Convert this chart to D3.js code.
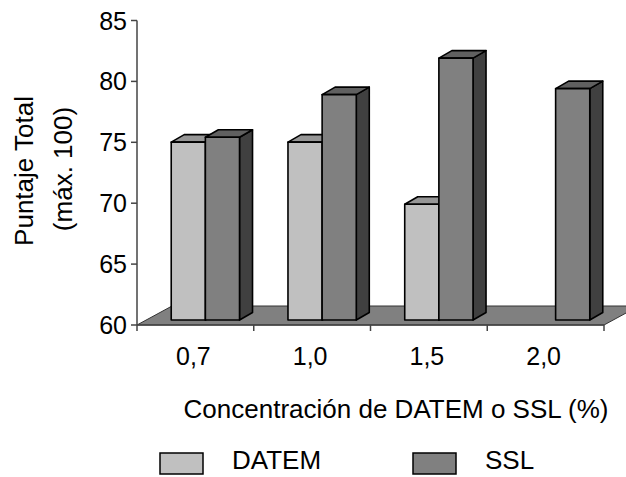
<!DOCTYPE html>
<html>
<head>
<meta charset="utf-8">
<script src="https://cdn.jsdelivr.net/npm/d3@7"></script>
<style>
	body { margin: 0; background: #fff; }
	text { font-family: "Liberation Sans", Arial, sans-serif; fill: #000; }
</style>
</head>
<body>
<div id="chart"></div>
<script>
var categories = ["0,7", "1,0", "1,5", "2,0"]
var seriesNames = ["DATEM", "SSL"]
var datem = [74.6, 74.6, 69.5, null]
var ssl = [75.0, 78.5, 81.5, 79.0]
var yTicks = [60, 65, 70, 75, 80, 85]

var width = 626, height = 477
var plotLeft = 137, plotRight = 604, plotBottom = 325, plotTop = 20.5
// 3d offsets: front plane of bars, bar depth, floor depth
var plane = {dx: 10, dy: -5}
var depth = {dx: 13, dy: -7.5}
var floorDepth = {dx: 35, dy: -19}

var colors = {
	DATEM: {front: "#c0c0c0", top: "#969696", side: "#606060"},
	SSL: {front: "#808080", top: "#606060", side: "#404040"}
}

var svg = d3.select("#chart").append("svg")
	.attr("width", width).attr("height", height)

var x = d3.scaleBand().domain(categories).range([plotLeft, plotRight]).padding(0)
var y = d3.scaleLinear().domain([60, 85]).range([plotBottom, plotTop])
var barW = 34.15
var xs = d3.scaleBand().domain(seriesNames).range([0, 2 * barW])

// floor
var f = [[plotLeft, plotBottom], [plotRight, plotBottom],
	[plotRight + floorDepth.dx, plotBottom + floorDepth.dy], [plotLeft + floorDepth.dx, plotBottom + floorDepth.dy]]
svg.append("path")
	.attr("d", "M" + f.join("L") + "Z")
	.attr("fill", "#808080").attr("stroke", "#333").attr("stroke-width", 1)

// bars
var rows = []
categories.forEach(function(c, i) {
	rows.push({cat: c, series: "DATEM", value: datem[i]})
	rows.push({cat: c, series: "SSL", value: ssl[i]})
})

var g = svg.append("g")
rows.filter(function(d) { return d.value != null }).forEach(function(d) {
	var x0 = x(d.cat) + x.bandwidth() / 2 - barW + plane.dx + xs(d.series)
	var x1 = x0 + barW
	var y0 = y(60) + plane.dy
	var y1 = y(d.value) + plane.dy
	var c = colors[d.series]
	var dx = depth.dx, dy = depth.dy
	var poly = function(pts, fill) {
		g.append("path").attr("d", "M" + pts.join("L") + "Z")
			.attr("fill", fill).attr("stroke", "#000")
			.attr("stroke-width", 1.6).attr("stroke-linejoin", "round")
	}
	poly([[x1, y1], [x1 + dx, y1 + dy], [x1 + dx, y0 + dy], [x1, y0]], c.side)
	poly([[x0, y1], [x0 + dx, y1 + dy], [x1 + dx, y1 + dy], [x1, y1]], c.top)
	poly([[x0, y1], [x1, y1], [x1, y0], [x0, y0]], c.front)
})

// y axis
svg.append("line").attr("x1", plotLeft).attr("x2", plotLeft)
	.attr("y1", y(85)).attr("y2", y(60)).attr("stroke", "#444").attr("stroke-width", 1.5)
yTicks.forEach(function(t) {
	svg.append("line").attr("x1", plotLeft - 6).attr("x2", plotLeft)
		.attr("y1", y(t)).attr("y2", y(t)).attr("stroke", "#444").attr("stroke-width", 1.5)
	svg.append("text").attr("x", 127).attr("y", y(t)).attr("dy", "0.36em")
		.attr("text-anchor", "end").attr("font-size", 25).text(t)
})

// x axis
svg.append("line").attr("x1", plotLeft).attr("x2", plotRight)
	.attr("y1", plotBottom).attr("y2", plotBottom).attr("stroke", "#444").attr("stroke-width", 1.5)
categories.concat([null]).forEach(function(c) {
	var xx = c == null ? plotRight : x(c)
	svg.append("line").attr("x1", xx).attr("x2", xx)
		.attr("y1", plotBottom).attr("y2", plotBottom + 6).attr("stroke", "#444").attr("stroke-width", 1.5)
})
categories.forEach(function(c) {
	svg.append("text").attr("x", x(c) + x.bandwidth() / 2 - 2).attr("y", 365)
		.attr("text-anchor", "middle").attr("font-size", 25).text(c)
})

svg.append("text").attr("x", 396).attr("y", 418)
	.attr("text-anchor", "middle").attr("font-size", 26).text("Concentración de DATEM o SSL (%)")

svg.append("text").attr("transform", "translate(33,171) rotate(-90)")
	.attr("text-anchor", "middle").attr("font-size", 26).text("Puntaje Total")
svg.append("text").attr("transform", "translate(72,169) rotate(-90)")
	.attr("text-anchor", "middle").attr("font-size", 26).text("(máx. 100)")

// legend
var legendX = [160, 413]
seriesNames.forEach(function(s, i) {
	svg.append("rect").attr("x", legendX[i]).attr("y", 453).attr("width", 43).attr("height", 21)
		.attr("fill", colors[s].front).attr("stroke", "#000").attr("stroke-width", 1.5)
	svg.append("text").attr("x", legendX[i] + 72).attr("y", 469)
		.attr("font-size", 26).text(s)
})
</script>
</body>
</html>
